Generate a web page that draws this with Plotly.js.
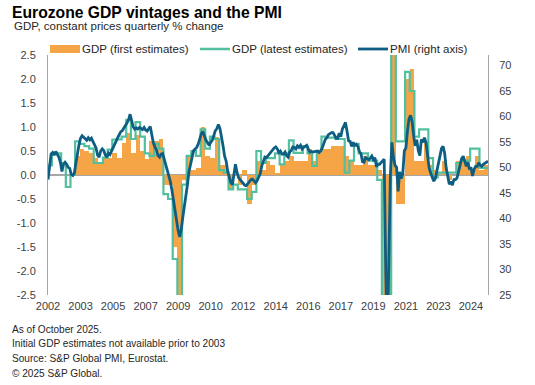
<!DOCTYPE html>
<html>
<head>
<meta charset="utf-8">
<script src="https://cdn.plot.ly/plotly-3.0.1.min.js"></script>
<style>html,body{margin:0;padding:0;background:#fff;}#chart{width:535px;height:385px;}</style>
</head>
<body>
<div id="chart"></div>
<script>
// ---------- DATA ----------
// Monthly axis starts Jan 2002 (month index 0)
const startYear = 2002;
const xTickLabels = ['2002','2003','2005','2007','2009','2010','2012','2014','2016','2017','2019','2021','2023','2024'];
const xTickStepMonths = 21;
const leftTickVals = [-2.5,-2.0,-1.5,-1.0,-0.5,0,0.5,1.0,1.5,2.0,2.5];
const leftTickText = ['-2.5','-2.0','-1.5','-1.0','-0.5','0.0','0.5','1.0','1.5','2.0','2.5'];
const rightTickVals = [25,30,35,40,45,50,55,60,65,70];

// GDP latest estimates, quarterly % change, 2002Q1 .. 2025Q3
const gdpLatest = [
  0.2, 0.45, 0.45, 0.25,    // 2002
 -0.25, 0.0, 0.7, 0.65,     // 2003
  0.6, 0.55, 0.25, 0.25,    // 2004
  0.36, 0.53, 0.74, 0.74,   // 2005
  0.8, 1.15, 0.75, 1.1,     // 2006
  0.8, 0.45, 0.4, 0.65,     // 2007
  0.55, -0.4, -0.5, -1.75,  // 2008
 -3.1, -0.2, 0.4, 0.5,      // 2009
  0.4, 0.95, 0.55, 0.8,     // 2010
  0.75, 0.1, 0.05, -0.3,    // 2011
 -0.2, -0.3, -0.3, -0.5,    // 2012
 -0.35, 0.5, 0.25, 0.35,    // 2013
  0.35, 0.45, 0.22, 0.45,   // 2014
  0.72, 0.46, 0.46, 0.6,    // 2015
  0.45, 0.19, 0.5, 0.8,     // 2016
  0.78, 0.78, 0.75, 0.75,   // 2017
  0.05, 0.3, 0.65, 0.45,    // 2018
  0.45, 0.3, 0.3, -0.1,     // 2019
 -3.3, -11.5, 12.4, 0.7,    // 2020
  0.7, 2.15, 1.75, 0.8,     // 2021
  0.95, 0.95, 0.35, -0.05,  // 2022
  0.05, 0.05, 0.05, 0.05,   // 2023
  0.25, 0.3, 0.3, 0.55,     // 2024
  0.55, 0.15, 0.15          // 2025
];

// GDP first estimates, quarterly % change, 2003Q1 .. 2025Q3
const firstEstStartQuarter = 4; // 2003Q1 counted from 2002Q1
const gdpFirst = [
  0.0, 0.0, 0.4, 0.55,      // 2003
  0.5, 0.46, 0.35, 0.26,    // 2004
  0.36, 0.36, 0.46, 0.36,   // 2005
  0.67, 0.88, 0.46, 0.84,   // 2006
  0.5, 0.33, 0.7, 0.7,      // 2007
  0.74, -0.2, -0.2, -1.5,   // 2008
 -2.5, -0.1, 0.4, 0.1,      // 2009
  0.15, 1.0, 0.4, 0.35,     // 2010
  0.8, 0.2, 0.2, -0.3,      // 2011
  0.0, -0.2, 0.1, -0.6,     // 2012
 -0.2, 0.3, 0.1, 0.3,       // 2013
  0.2, 0.05, 0.2, 0.3,      // 2014
  0.4, 0.3, 0.3, 0.3,       // 2015
  0.55, 0.3, 0.45, 0.55,    // 2016
  0.55, 0.6, 0.6, 0.6,      // 2017
  0.4, 0.3, 0.2, 0.2,       // 2018
  0.4, 0.2, 0.2, 0.1,       // 2019
 -3.8, -12.1, 12.7, -0.6,   // 2020
 -0.6, 2.0, 2.2, 0.3,       // 2021
  0.3, 0.7, 0.2, 0.1,       // 2022
  0.0, 0.3, -0.1, 0.0,      // 2023
  0.3, 0.3, 0.4, 0.1,       // 2024
  0.4, 0.1, 0.2             // 2025
];

// PMI, monthly, Jan 2002 .. Sep 2025
const pmi = [
  47.6, 50.8, 52.6, 52.9, 52.4, 53.1, 52.5, 52.0, 51.0, 49.2, 50.6, 51.0, // 2002
  50.6, 50.0, 49.8, 48.6, 48.4, 48.9, 50.8, 52.8, 54.4, 55.7, 56.2, 55.9, // 2003
  55.6, 55.3, 55.8, 55.4, 55.7, 55.1, 54.7, 53.8, 52.4, 52.0, 53.2, 53.6, // 2004
  53.3, 52.4, 52.0, 52.8, 52.5, 53.2, 54.0, 54.6, 55.2, 55.8, 56.4, 57.0, // 2005
  57.2, 57.6, 58.2, 58.7, 59.3, 60.4, 59.1, 57.9, 57.5, 57.7, 57.5, 57.8, // 2006
  57.6, 57.4, 57.8, 57.3, 57.1, 57.7, 58.0, 56.4, 54.8, 54.0, 53.4, 52.3, // 2007
  52.0, 52.6, 52.7, 51.6, 50.5, 49.3, 48.1, 47.2, 45.5, 43.5, 41.0, 39.0, // 2008
  37.6, 36.4, 37.8, 40.2, 42.2, 44.6, 46.6, 49.2, 50.6, 52.2, 53.3, 53.6, // 2009
  53.9, 54.6, 55.9, 56.6, 57.0, 56.0, 55.3, 54.8, 54.3, 54.9, 55.3, 56.2, // 2010
  57.2, 57.6, 58.4, 57.6, 55.4, 54.2, 52.2, 51.2, 49.2, 48.0, 47.0, 46.6, // 2011
  48.4, 50.6, 49.0, 48.0, 47.6, 47.2, 46.8, 46.5, 46.4, 46.8, 47.0, 47.6, // 2012
  47.7, 47.3, 47.0, 47.4, 48.0, 48.8, 50.3, 51.3, 52.0, 51.9, 52.3, 52.6, // 2013
  53.0, 53.3, 53.8, 54.0, 53.6, 52.9, 53.2, 52.6, 52.6, 53.0, 52.3, 52.0, // 2014
  53.0, 53.3, 54.0, 53.9, 53.6, 54.2, 53.9, 54.3, 53.6, 53.9, 54.2, 54.3, // 2015
  53.6, 53.0, 53.1, 53.0, 53.1, 53.1, 53.2, 52.9, 53.2, 53.8, 54.6, 55.5, // 2016
  55.8, 56.4, 56.6, 56.8, 56.8, 56.3, 55.7, 55.7, 56.7, 56.0, 57.5, 58.1, // 2017
  58.8, 57.1, 55.2, 55.1, 54.1, 54.9, 54.3, 54.5, 54.1, 53.1, 52.7, 51.1, // 2018
  51.0, 51.9, 51.6, 51.5, 51.8, 52.2, 51.5, 51.9, 50.1, 50.6, 50.6, 50.9, // 2019
  51.3, 51.6, 29.7, 13.6, 31.9, 48.5, 54.9, 51.9, 50.4, 50.0, 45.3, 49.1, // 2020
  47.8, 48.8, 53.2, 53.8, 57.1, 59.5, 60.2, 59.0, 56.2, 54.2, 55.4, 53.3, // 2021
  52.3, 55.5, 54.9, 55.8, 54.8, 52.0, 49.9, 48.9, 48.1, 47.3, 47.8, 49.3, // 2022
  50.3, 52.0, 53.7, 54.1, 52.8, 49.9, 48.6, 46.7, 47.2, 46.5, 47.6, 47.6, // 2023
  47.9, 49.2, 50.3, 51.7, 52.2, 50.9, 50.2, 51.0, 49.6, 50.0, 48.3, 49.6, // 2024
  50.2, 50.2, 50.9, 50.4, 50.2, 50.6, 50.9, 51.0, 51.2                    // 2025
];

const legendNames = ['GDP (first estimates)', 'GDP (latest estimates)', 'PMI (right axis)'];
const titleText = 'Eurozone GDP vintages and the PMI';
const subtitleText = 'GDP, constant prices quarterly % change';
const footnotes = ['As of October 2025.', 'Initial GDP estimates not available prior to 2003', 'Source: S&P Global PMI, Eurostat.', '\u00a9 2025 S&P Global.'];

// ---------- STYLE / LAYOUT ----------
const COL_ORANGE = '#F5A545';
const COL_TEAL = '#52BF9F';
const COL_BLUE = '#0D5E82';
const COL_AXIS = '#A6A6A6';
const FONT = 'Liberation Sans, Arial, Helvetica, sans-serif';

const W = 535, H = 385;
const M = {l: 48, r: 47, t: 55, b: 90};
const PW = W - M.l - M.r, PH = H - M.t - M.b;
const px = x => (x - M.l) / PW;
const py = y => (H - M.b - y) / PH;

// bars: each quarter covers its three months
const barX = gdpFirst.map((v, i) => (i + firstEstStartQuarter) * 3 + 1);
// step line for latest estimates
const latX = gdpLatest.map((v, i) => i * 3 - 0.5);
const latY = gdpLatest.slice();
latX.push(gdpLatest.length * 3 - 0.5);
latY.push(gdpLatest[gdpLatest.length - 1]);
const pmiX = pmi.map((v, i) => i);
const lastMonth = pmi.length - 1;

const traces = [
  {type: 'bar', x: barX, y: gdpFirst, width: 3, marker: {color: COL_ORANGE, line: {width: 0}},
   name: legendNames[0], showlegend: false, hoverinfo: 'skip'},
  {type: 'scatter', mode: 'lines', x: latX, y: latY, line: {color: COL_TEAL, width: 2.2, shape: 'hv'},
   name: legendNames[1], showlegend: false, hoverinfo: 'skip'},
  {type: 'scatter', mode: 'lines', x: pmiX, y: pmi, yaxis: 'y2', line: {color: COL_BLUE, width: 2.8},
   name: legendNames[2], showlegend: false, hoverinfo: 'skip'}
];

const tickFont = {family: FONT, size: 11, color: '#404040'};
const annotations = [];
const shapes = [];

annotations.push({xref: 'paper', yref: 'paper', x: px(10), y: py(13), xanchor: 'left', yanchor: 'middle',
  text: '<b>' + titleText + '</b>', showarrow: false, font: {family: FONT, size: 15.7, color: '#000'}});
annotations.push({xref: 'paper', yref: 'paper', x: px(12), y: py(26), xanchor: 'left', yanchor: 'middle',
  text: subtitleText, showarrow: false, font: {family: FONT, size: 11.5, color: '#262626'}});

// legend (drawn manually)
const legY = 49;
shapes.push({type: 'rect', xref: 'paper', yref: 'paper', x0: px(50), x1: px(80), y0: py(45), y1: py(53),
  fillcolor: COL_ORANGE, line: {width: 0}});
shapes.push({type: 'line', xref: 'paper', yref: 'paper', x0: px(200), x1: px(230), y0: py(legY), y1: py(legY),
  line: {color: COL_TEAL, width: 2.5}});
shapes.push({type: 'line', xref: 'paper', yref: 'paper', x0: px(358), x1: px(388), y0: py(legY), y1: py(legY),
  line: {color: COL_BLUE, width: 2.8}});
[[80, 0], [230, 1], [388, 2]].forEach(([x, k]) => {
  annotations.push({xref: 'paper', yref: 'paper', x: px(x), y: py(legY), xanchor: 'left', yanchor: 'middle',
    text: legendNames[k], showarrow: false, font: {family: FONT, size: 11.5, color: '#262626'}});
});

footnotes.forEach((t, i) => {
  annotations.push({xref: 'paper', yref: 'paper', x: px(10), y: py(329 + i * 14.8), xanchor: 'left', yanchor: 'middle',
    text: t, showarrow: false, font: {family: FONT, size: 10.1, color: '#262626'}});
});

const layout = {
  width: W, height: H,
  margin: M,
  paper_bgcolor: '#fff', plot_bgcolor: '#fff',
  showlegend: false,
  bargap: 0,
  font: {family: FONT},
  xaxis: {
    range: [0, lastMonth],
    tickmode: 'array',
    tickvals: xTickLabels.map((t, i) => i * xTickStepMonths),
    ticktext: xTickLabels,
    ticks: '', showgrid: false, zeroline: false, showline: false,
    tickfont: tickFont, ticklabelstandoff: 3, fixedrange: true
  },
  yaxis: {
    range: [-2.5, 2.5],
    tickmode: 'array', tickvals: leftTickVals, ticktext: leftTickText,
    ticks: '', showgrid: false,
    zeroline: true, zerolinecolor: COL_AXIS, zerolinewidth: 1.5,
    showline: true, linecolor: COL_AXIS, linewidth: 1,
    tickfont: tickFont, ticklabelstandoff: 9
  },
  yaxis2: {
    overlaying: 'y', side: 'right',
    range: [25, 72],
    tickmode: 'array', tickvals: rightTickVals, ticktext: rightTickVals.map(String),
    ticks: '', showgrid: false, zeroline: false,
    showline: true, linecolor: COL_AXIS, linewidth: 1,
    tickfont: tickFont, ticklabelstandoff: 8
  },
  annotations: annotations,
  shapes: shapes
};

Plotly.newPlot('chart', traces, layout, {staticPlot: true, displayModeBar: false});
</script>
</body>
</html>
